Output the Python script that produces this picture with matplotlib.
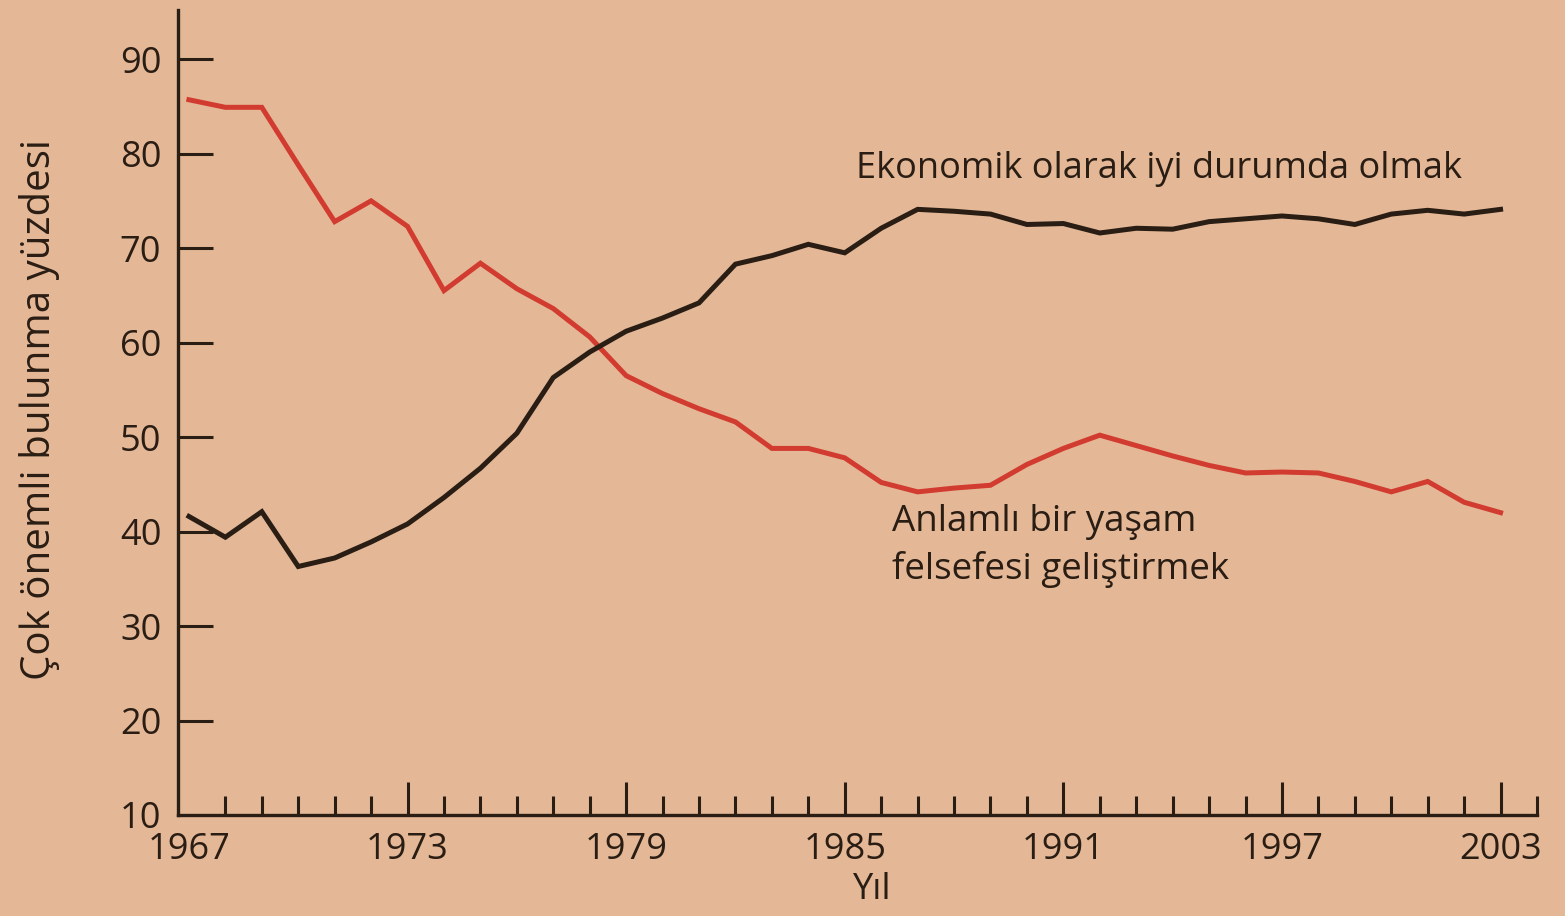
import matplotlib
matplotlib.use("Agg")
import matplotlib.pyplot as plt
from matplotlib.ticker import MultipleLocator

# ---- data ----
years = list(range(1967, 2004))
well_off = [41.6, 39.4, 42.1, 36.3, 37.2, 38.9, 40.8, 43.6, 46.7, 50.4,
            56.3, 59.0, 61.2, 62.6, 64.2, 68.3, 69.2, 70.4, 69.5, 72.1,
            74.1, 73.9, 73.6, 72.5, 72.6, 71.6, 72.1, 72.0, 72.8, 73.1,
            73.4, 73.1, 72.5, 73.6, 74.0, 73.6, 74.1]
philosophy = [85.7, 84.9, 84.9, 78.8, 72.8, 75.0, 72.3, 65.5, 68.4, 65.7,
              63.6, 60.6, 56.5, 54.6, 53.0, 51.6, 48.8, 48.8, 47.8, 45.2,
              44.2, 44.6, 44.9, 47.1, 48.8, 50.2, 49.1, 48.0, 47.0, 46.2,
              46.3, 46.2, 45.3, 44.2, 45.3, 43.1, 42.0]
xtick_labels = [1967, 1973, 1979, 1985, 1991, 1997, 2003]
ytick_values = [10, 20, 30, 40, 50, 60, 70, 80, 90]
label_well_off = "Ekonomik olarak iyi durumda olmak"
label_philosophy = ["Anlamlı bir yaşam", "felsefesi geliştirmek"]
xlabel = "Yıl"
ylabel = "Çok önemli bulunma yüzdesi"

# ---- style ----
bg = "#e4b896"
ink = "#2a1d14"
red = "#d23b30"
plt.rcParams['font.family'] = ['Open Sans', 'DejaVu Sans']

W, H = 1565, 916
fig = plt.figure(figsize=(W / 100, H / 100), dpi=100, facecolor=bg)
ax = fig.add_axes([178 / W, 1 - 815 / H, (1537 - 178) / W, (815 - 10) / H])
ax.set_facecolor(bg)

ax.plot(years, philosophy, color=red, lw=3.6, solid_joinstyle='miter')
ax.plot(years, well_off, color=ink, lw=3.6, solid_joinstyle='miter')

ax.set_xlim(1966.7, 2004)
ax.set_ylim(10, 95.2)

for s in ['top', 'right']:
    ax.spines[s].set_visible(False)
for s in ['left', 'bottom']:
    ax.spines[s].set_color(ink)
    ax.spines[s].set_linewidth(2.4)

ax.set_xticks(xtick_labels)
ax.set_xticklabels([str(v) for v in xtick_labels])
ax.xaxis.set_minor_locator(MultipleLocator(1))
ax.set_yticks(ytick_values)
ax.set_yticklabels([str(v) for v in ytick_values])

ax.tick_params(axis='x', which='major', direction='in', length=24, width=2.2,
               color=ink, labelsize=26, labelcolor=ink, pad=12)
ax.tick_params(axis='x', which='minor', direction='in', length=14, width=2.2,
               color=ink)
ax.tick_params(axis='y', which='major', direction='in', length=25, width=2.2,
               color=ink, labelsize=26, labelcolor=ink, pad=12)
ax.xaxis.get_major_ticks()[0].tick1line.set_visible(False)
ax.yaxis.get_major_ticks()[0].tick1line.set_visible(False)
ax.yaxis.get_major_ticks()[0].label1.set_y(11.2)

ax.text(1985.3, 78.4, label_well_off, fontsize=26, color=ink,
        ha='left', va='center')
ax.text(1986.3, 41.0, label_philosophy[0], fontsize=26.5, color=ink,
        ha='left', va='center')
ax.text(1986.3, 36.0, label_philosophy[1], fontsize=26.5, color=ink,
        ha='left', va='center')

fig.text(872 / W, 1 - 890 / H, xlabel, fontsize=26, color=ink,
         ha='center', va='center')
fig.text(40 / W, 1 - 410 / H, ylabel, fontsize=29, color=ink,
         ha='center', va='center', rotation=90)

fig.savefig("out.png", dpi=100, facecolor=bg)
